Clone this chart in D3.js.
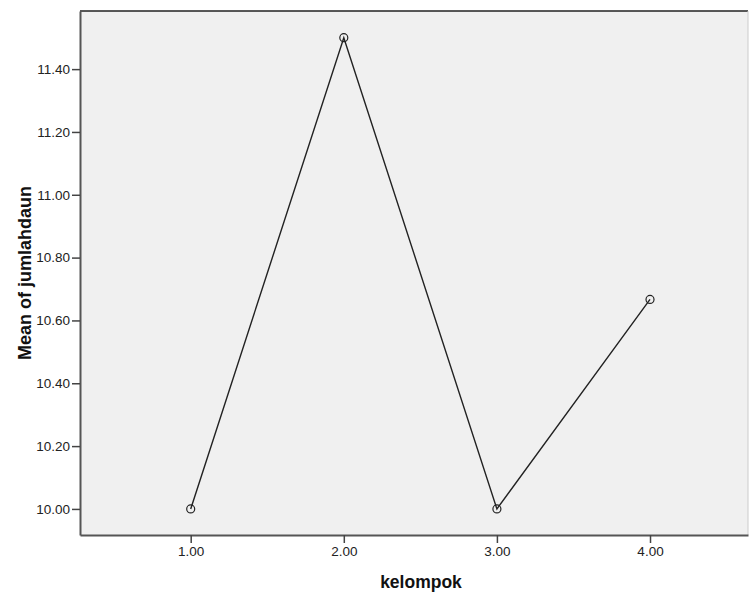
<!DOCTYPE html>
<html>
<head>
<meta charset="utf-8">
<script src="https://cdn.jsdelivr.net/npm/d3@7"></script>
<style>
  body { margin: 0; background: #fff; }
  text { font-family: "Liberation Sans", Arial, sans-serif; }
</style>
</head>
<body>
<script>
const width = 749;
const height = 594;

// Data.
const kelompok = [1, 2, 3, 4];
const meanJumlahdaun = [10.0, 11.5, 10.0, 10.667];
const yTicks = [10.0, 10.2, 10.4, 10.6, 10.8, 11.0, 11.2, 11.4];

// Plot box.
const box = { left: 80, top: 11, right: 748, bottom: 535 };

const svg = d3.select("body").append("svg")
  .attr("width", width)
  .attr("height", height);

const x = d3.scaleLinear().domain([0.277, 4.64]).range([box.left, box.right]);
const y = d3.scaleLinear().domain([9.917, 11.585]).range([box.bottom, box.top]);

// Grey background of the plot area.
svg.append("rect")
  .attr("x", box.left)
  .attr("y", box.top)
  .attr("width", box.right - box.left)
  .attr("height", box.bottom - box.top)
  .attr("fill", "#f0f0f0");

// Top and right frame lines.
svg.append("line")
  .attr("x1", box.left).attr("x2", box.right)
  .attr("y1", box.top).attr("y2", box.top)
  .attr("stroke", "#222").attr("stroke-width", 1.5);
svg.append("line")
  .attr("x1", box.right).attr("x2", box.right)
  .attr("y1", box.top).attr("y2", box.bottom)
  .attr("stroke", "#ccc").attr("stroke-width", 1);

// Axes (tickSize first, then drop the outer ticks).
const yAxis = svg.append("g")
  .attr("transform", `translate(${box.left},0)`)
  .call(d3.axisLeft(y).tickValues(yTicks).tickFormat(d3.format(".2f"))
    .tickSize(8).tickSizeOuter(0).tickPadding(2));

const xAxis = svg.append("g")
  .attr("transform", `translate(0,${box.bottom})`)
  .call(d3.axisBottom(x).tickValues(kelompok).tickFormat(d3.format(".2f"))
    .tickSize(8).tickSizeOuter(0).tickPadding(3));

[yAxis, xAxis].forEach(ax => {
  ax.attr("font-size", 13.5).attr("font-family", "'Liberation Sans', Arial, sans-serif");
  ax.select(".domain").attr("stroke", "#555").attr("stroke-width", 2);
  ax.selectAll(".tick line").attr("stroke", "#444").attr("stroke-width", 1.5);
  ax.selectAll(".tick text")
    .attr("fill", "#222")
    .style("font-size", "13.5px");
});

// Axis titles.
svg.append("text")
  .attr("x", 421)
  .attr("y", 588)
  .attr("text-anchor", "middle")
  .style("font-size", "17.5px")
  .style("font-weight", "bold")
  .attr("fill", "#111")
  .text("kelompok");

svg.append("text")
  .attr("transform", `translate(31,273) rotate(-90)`)
  .attr("text-anchor", "middle")
  .style("font-size", "18px")
  .style("font-weight", "bold")
  .attr("fill", "#111")
  .text("Mean of jumlahdaun");

// Line and markers.
const points = kelompok.map((k, i) => ({ k, v: meanJumlahdaun[i] }));

svg.append("path")
  .datum(points)
  .attr("fill", "none")
  .attr("stroke", "#222")
  .attr("stroke-width", 1.4)
  .attr("d", d3.line().x(d => x(d.k)).y(d => y(d.v)));

svg.selectAll(".pt")
  .data(points)
  .enter()
  .append("circle")
  .attr("class", "pt")
  .attr("cx", d => x(d.k))
  .attr("cy", d => y(d.v))
  .attr("r", 4)
  .attr("fill", "none")
  .attr("stroke", "#222")
  .attr("stroke-width", 1.2);
</script>
</body>
</html>
